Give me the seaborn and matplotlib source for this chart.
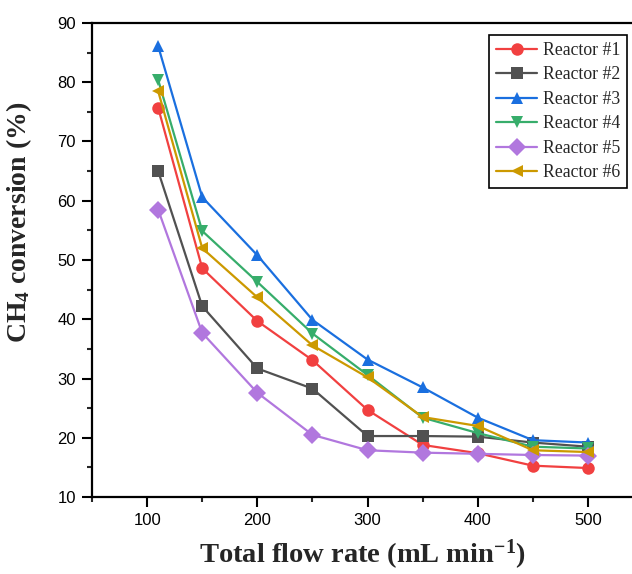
import pandas as pd
import matplotlib.pyplot as plt
import seaborn as sns
from matplotlib.ticker import MultipleLocator

# data
flow = [110, 150, 200, 250, 300, 350, 400, 450, 500]
reactors = ["Reactor #1", "Reactor #2", "Reactor #3", "Reactor #4", "Reactor #5", "Reactor #6"]
r1 = [75.7, 48.6, 39.7, 33.1, 24.7, 18.8, 17.4, 15.3, 14.9]
r2 = [65.0, 42.2, 31.7, 28.3, 20.3, 20.3, 20.2, 19.2, 18.5]
r3 = [86.1, 60.6, 50.8, 39.9, 33.2, 28.5, 23.4, 19.6, 19.2]
r4 = [80.4, 54.9, 46.3, 37.6, 30.6, 23.4, 20.8, 18.5, 18.2]
r5 = [58.5, 37.7, 27.6, 20.5, 17.9, 17.5, 17.3, 17.1, 17.0]
r6 = [78.5, 52.0, 43.7, 35.6, 30.2, 23.5, 22.0, 17.9, 17.6]

colors = ["#F14040", "#515151", "#1A6FDF", "#37AD6B", "#B177DE", "#CC9900"]
markers = ["o", "s", "^", "v", "D", "<"]

rows = []
for name, vals in zip(reactors, [r1, r2, r3, r4, r5, r6]):
    for x, y in zip(flow, vals):
        rows.append({"flow": x, "conv": y, "reactor": name})
df = pd.DataFrame(rows)

sns.set_style("ticks")
plt.rcParams["font.family"] = ["Liberation Sans", "DejaVu Sans"]
plt.rcParams["mathtext.fontset"] = "custom"
plt.rcParams["mathtext.rm"] = "Liberation Serif"
plt.rcParams["mathtext.bf"] = "Liberation Serif:bold"
plt.rcParams["mathtext.default"] = "bf"

fig = plt.figure(figsize=(6.32, 5.74), dpi=100)
ax = fig.add_axes([0.1456, 0.134, 0.872, 0.826])

sns.lineplot(data=df, x="flow", y="conv", hue="reactor", style="reactor",
             palette=dict(zip(reactors, colors)),
             markers=dict(zip(reactors, markers)), dashes=False,
             markersize=9, markeredgewidth=0, linewidth=1.6, ax=ax)

ax.set_xlim(50, 550)
ax.set_ylim(10, 90)
ax.xaxis.set_major_locator(MultipleLocator(100))
ax.xaxis.set_minor_locator(MultipleLocator(50))
ax.yaxis.set_major_locator(MultipleLocator(10))
ax.yaxis.set_minor_locator(MultipleLocator(5))
ax.tick_params(which="major", direction="out", length=7.5, width=1.5, pad=4,
               labelsize=12, colors="black")
ax.tick_params(which="minor", direction="out", length=3.5, width=1.5)
for s in ax.spines.values():
    s.set_linewidth(1.6)
    s.set_color("black")

ax.set_xlabel("Total flow rate (mL min$^{\\mathbf{-1}}$)", fontsize=20.5, fontweight="bold",
              family="Liberation Serif")
ax.xaxis.set_label_coords(0.49, -0.085)
ax.set_ylabel("CH$_{\\mathbf{4}}$ conversion (%)", fontsize=20, fontweight="bold",
              family="Liberation Serif")
ax.yaxis.set_label_coords(-0.105, 0.58)

leg = ax.legend(loc="upper right", bbox_to_anchor=(0.971, 0.975), borderaxespad=0,
                fancybox=False, edgecolor="black", framealpha=1,
                prop={"family": "Liberation Serif", "size": 12.8},
                handlelength=2.3, handletextpad=0.3, borderpad=0.4, labelspacing=0.42)
leg.get_frame().set_linewidth(1.2)
for h in leg.legend_handles:
    h.set_markersize(9)

fig.savefig("out.png", dpi=100)
